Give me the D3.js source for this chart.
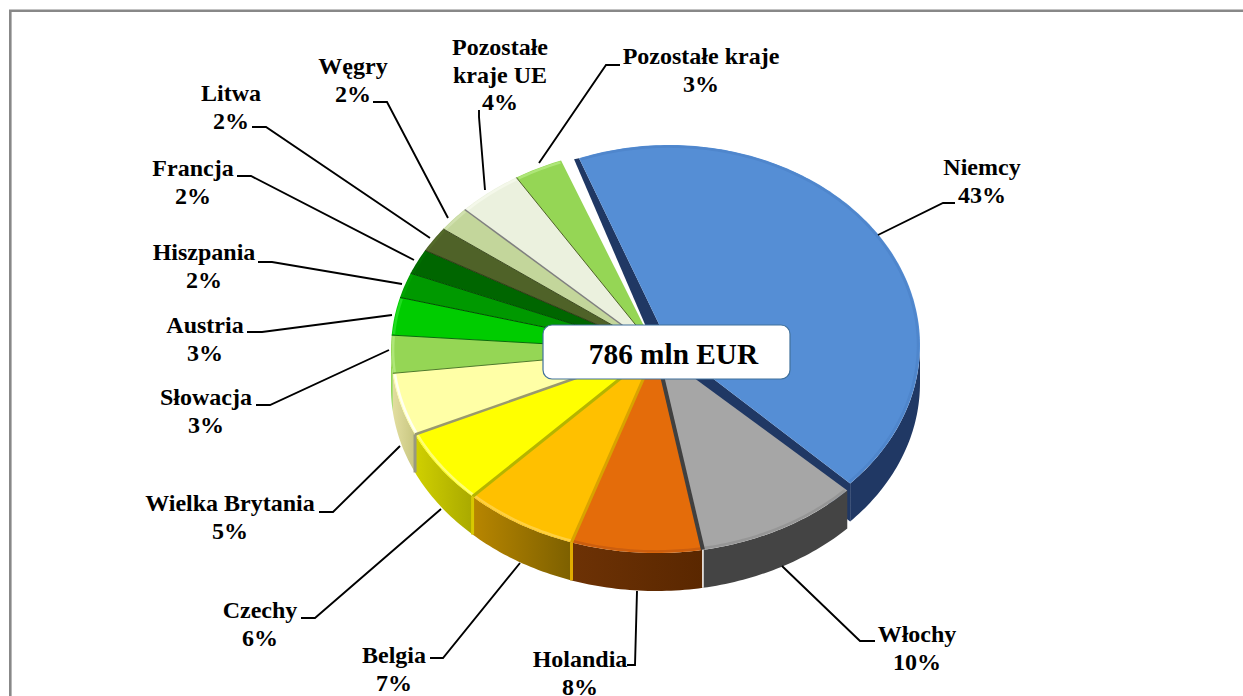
<!DOCTYPE html>
<html><head><meta charset="utf-8">
<script src="https://cdn.jsdelivr.net/npm/d3@7"></script>
<style>html,body{margin:0;padding:0;background:#fff;overflow:hidden}svg{display:block}
text{font-family:"Liberation Serif",serif;font-weight:bold;fill:#000}</style>
</head><body><svg id="c" width="1243" height="696"></svg>
<script>
// ---- data
const categories = ["Niemcy","Włochy","Holandia","Belgia","Czechy","Wielka Brytania","Słowacja","Austria","Hiszpania","Francja","Litwa","Węgry","Pozostałe kraje UE","Pozostałe kraje"];
const values = [43,10,8,7,6,5,3,3,2,2,2,2,4,3];
const totalLabel = "786 mln EUR";
// ---- styles
const topColors  = ["#558ed5","#a6a6a6","#e46c0a","#ffc000","#ffff00","#ffffa6","#95d655","#00cc00","#009900","#006600","#4f6228","#c3d69b","#ebf1de","#95d655"];
const wallStart  = ["#203864","#444444","#6d3205","#b88600","#d0d000","#e2dea0","#95d655","#00cc00","#009900","#006600","#4f6228","#c3d69b","#ebf1de","#95d655"];
const wallEnd    = ["#203864","#444444","#5a2700","#7d6000","#a9a900","#c8c680","#95d655","#00cc00","#009900","#006600","#4f6228","#c3d69b","#ebf1de","#95d655"];
const rimColors  = ["#4f86cc","#969696","#cc5e0e","#ffd040","#ffff70","#fffff0","#aee678","#20dc20","#00a400","#006e00","#536a2a","#d0e0ae","#f4f8ea","#aee678"];
const edgeColors = [null,null,"#404040","#d9a300","#b5b500","#99996e","#4f7a2a","#0a6b0a","#004d00","#004d00","#2c3a14","#3c4a20","#7f7f7f","#4f6228"];
const edgeWidths = [0,0,4,3,3,2.5,1,1,1,1,1,1,1.5,1];
const wallEdge   = [null,null,"#ffffff","#e0ac00","#d8c800","#999980",null,null,null,null,null,null,null,null];
// ---- layout
const W=1243,H=696, depth=38;
const mainGeo={cx:656,cy:350,rx:265,ry:203}, explGeo={cx:669,cy:345,rx:251,ry:200};
const labelAt = [[982,168],[917,635],[580,660],[394,656],[260,611],[230,504],[206,398],[205,326],[204,253],[193,169],[231,94],[353,67],[500,48],[701,57]];
const labelLines = [["Niemcy","43%"],["Włochy","10%"],["Holandia","8%"],["Belgia","7%"],["Czechy","6%"],["Wielka Brytania","5%"],["Słowacja","3%"],["Austria","3%"],["Hiszpania","2%"],["Francja","2%"],["Litwa","2%"],["Węgry","2%"],["Pozostałe","kraje UE","4%"],["Pozostałe kraje","3%"]];
const leaders = [
 [[878,235],[943,203],[955,203]],[[782,566],[860,641],[875,641]],[[637,591],[635,665],[627,665]],
 [[520,563],[443,658],[430,658]],[[441,509],[315,618],[301,618]],[[400,446],[333,512],[319,512]],
 [[389,350],[270,405],[256,405]],[[392,315],[262,332],[247,332]],[[402,284],[272,262],[258,262]],
 [[414,260],[251,176],[237,176]],[[430,238],[266,127],[252,127]],[[448,218],[387,102],[373,102]],
 [[485,190],[479,117],[479,110]],[[539,163],[606,65],[620,65]]];

const svg=d3.select("#c");
const defs=svg.append("defs");
const line=d3.line();
svg.append("path").attr("d",line([[10.3,H],[10.3,10.7],[W,10.7]])).attr("fill","none")
  .attr("stroke","#888888").attr("stroke-width",2.6);

const rad=d=>d*Math.PI/180;
const slices=d3.pie().sort(null).startAngle(rad(-21)).endAngle(rad(339))(values);
function scales(g){return {x:d3.scaleLinear([-1,1],[g.cx-g.rx,g.cx+g.rx]),y:d3.scaleLinear([-1,1],[g.cy-g.ry,g.cy+g.ry])};}
function pt(s,t,r=1,dy=0){return [s.x(r*Math.sin(t)),s.y(-r*Math.cos(t))+dy];}
function arcPts(s,a0,a1,r=1,dy=0){const n=Math.max(2,Math.ceil((a1-a0)/rad(1)));return d3.range(n+1).map(i=>pt(s,a0+(a1-a0)*i/n,r,dy));}

function drawWall(g,s,d,i){
  const a0=Math.max(d.startAngle,rad(90)),a1=Math.min(d.endAngle,rad(270));
  if(a1<=a0) return;
  const id="w"+i, top=arcPts(s,a0,a1), bot=arcPts(s,a0,a1,1,depth).reverse();
  const lg=defs.append("linearGradient").attr("id",id).attr("gradientUnits","userSpaceOnUse")
    .attr("x1",top[top.length-1][0]).attr("x2",top[0][0]).attr("y1",0).attr("y2",0);
  lg.append("stop").attr("offset",0).attr("stop-color",wallStart[i]);
  lg.append("stop").attr("offset",1).attr("stop-color",wallEnd[i]);
  g.append("path").attr("d",line(top.concat(bot))+"Z").attr("fill",`url(#${id})`);
}
function drawTop(g,s,d,i){
  const pts=[[s.x(0),s.y(0)]].concat(arcPts(s,d.startAngle,d.endAngle));
  g.append("path").attr("class","slice").attr("d",line(pts)+"Z").attr("fill",topColors[i]);
}
function drawRim(g,s,d,i){
  g.append("path").attr("d",line(arcPts(s,d.startAngle+rad(.3),d.endAngle-rad(.3),.992))).attr("fill","none")
   .attr("stroke",rimColors[i]).attr("stroke-width",2.5);
}

// exploded slice
const ge=svg.append("g"), sE=scales(explGeo), d0=slices[0];
{
  const apex=[sE.x(0),sE.y(0)], p0=pt(sE,d0.startAngle), p1=pt(sE,d0.endAngle);
  ge.append("path").attr("d",line([apex,p0,[p0[0]-5,p0[1]+1],[apex[0]-10,apex[1]+12]])+"Z").attr("fill",wallStart[0]);
  ge.append("path").attr("d",line([apex,p1,[p1[0],p1[1]+depth],[apex[0],apex[1]+depth]])+"Z").attr("fill",wallStart[0]);
  drawWall(ge,sE,d0,0); drawTop(ge,sE,d0,0); drawRim(ge,sE,d0,0);
}
// remaining slices
const gm=svg.append("g"), sM=scales(mainGeo), rest=slices.slice(1);
rest.forEach(d=>drawWall(gm,sM,d,d.index));
rest.forEach(d=>drawTop(gm,sM,d,d.index));
rest.forEach(d=>drawRim(gm,sM,d,d.index));
rest.forEach(d=>{
  const i=d.index; if(!edgeColors[i]) return;
  const p=pt(sM,d.startAngle);
  gm.append("path").attr("d",line([[sM.x(0),sM.y(0)],p])).attr("stroke",edgeColors[i]).attr("stroke-width",edgeWidths[i]).attr("fill","none");
  if(wallEdge[i]) gm.append("path").attr("d",line([p,[p[0],p[1]+depth]])).attr("stroke",wallEdge[i]).attr("stroke-width",i===2?1.5:3).attr("fill","none");
});

// leaders
svg.append("g").selectAll("path").data(leaders).join("path")
  .attr("d",d=>line(d)).attr("fill","none").attr("stroke","#000").attr("stroke-width",1.9);

// labels
const lab=svg.append("g").selectAll("text").data(categories).join("text")
  .attr("text-anchor","middle").attr("font-size",24).attr("class","lab");
lab.each(function(c,i){
  const t=d3.select(this);
  labelLines[i].forEach((l,k)=>t.append("tspan").attr("x",labelAt[i][0]).attr("y",labelAt[i][1]+7+k*27.5).text(l));
});

// centre box
svg.append("rect").attr("x",543).attr("y",325).attr("width",247).attr("height",54).attr("rx",9)
  .attr("fill","#fff").attr("stroke","#41719c").attr("stroke-width",1.2);
svg.append("text").attr("x",673.5).attr("y",364).attr("text-anchor","middle").attr("font-size",29.3).text(totalLabel);
</script></body></html>
